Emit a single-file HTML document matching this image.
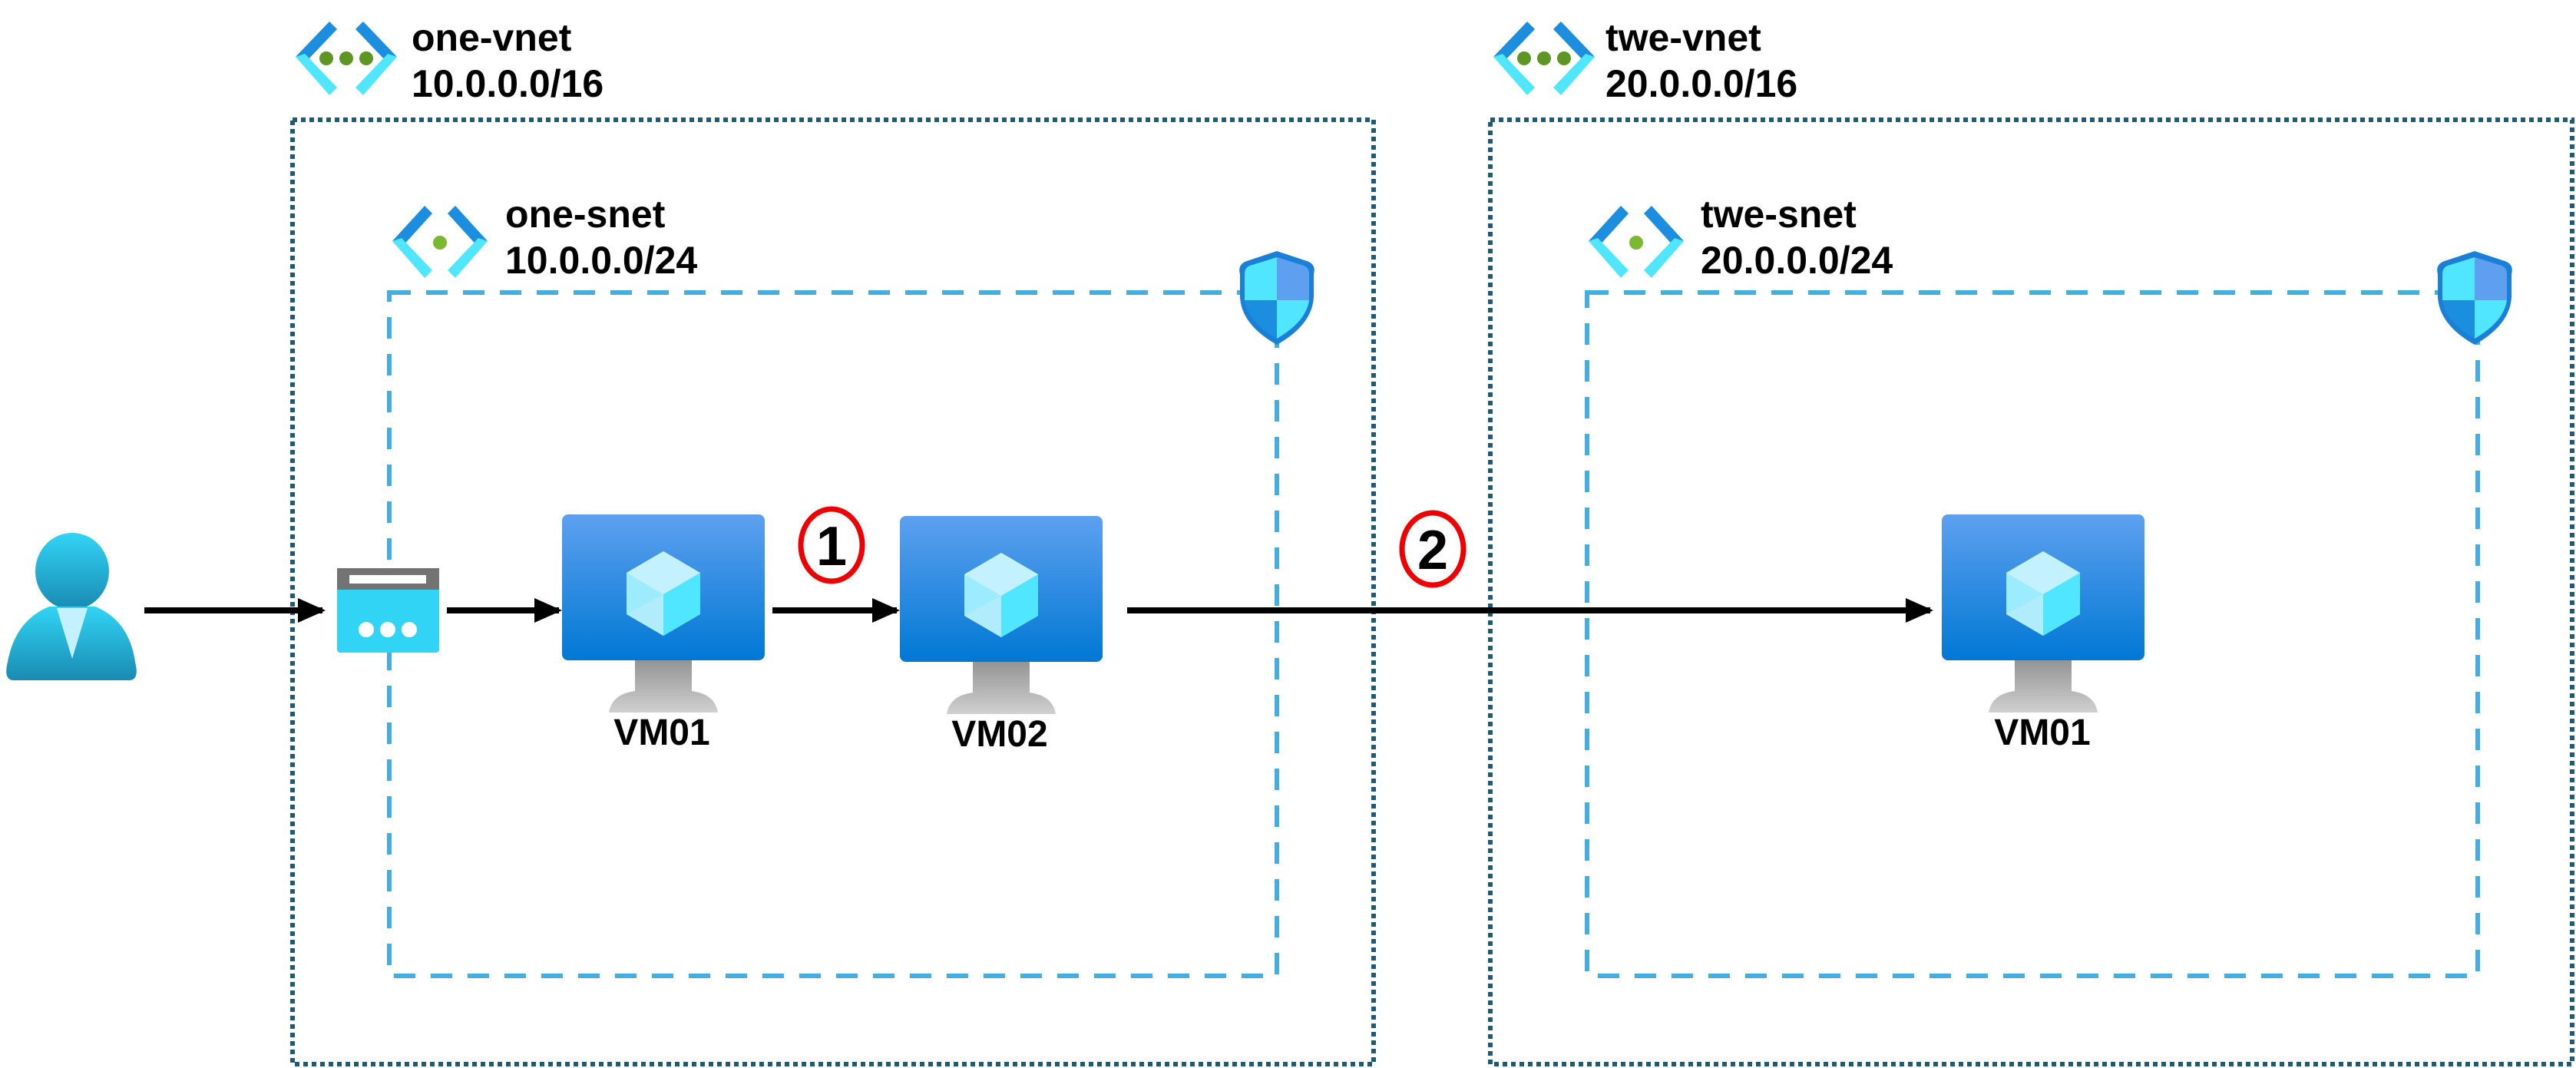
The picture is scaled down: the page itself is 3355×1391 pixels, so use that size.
<!DOCTYPE html>
<html><head><meta charset="utf-8"><style>
html,body{margin:0;padding:0;background:#fff;}
svg{display:block;}
text{font-family:"Liberation Sans",sans-serif;font-weight:bold;fill:#000;}
</style></head><body>
<svg width="3355" height="1391" viewBox="0 0 3355 1391" xmlns="http://www.w3.org/2000/svg">
<defs>
<linearGradient id="vm" x1="0" y1="0" x2="0" y2="1"><stop offset="0" stop-color="#5ea0ef"/><stop offset="1" stop-color="#0078d4"/></linearGradient>
<linearGradient id="st" x1="0" y1="0" x2="0" y2="1"><stop offset="0" stop-color="#949494"/><stop offset="1" stop-color="#d0d0d0"/></linearGradient>
<linearGradient id="pp" x1="0" y1="0" x2="0" y2="1"><stop offset="0" stop-color="#32d4f5"/><stop offset="1" stop-color="#198ab3"/></linearGradient>
<marker id="ah" markerWidth="4.5" markerHeight="4" refX="4" refY="2" orient="auto" markerUnits="strokeWidth"><path d="M0,0 L4.5,2 L0,4 z" fill="#000"/></marker>
<g id="vmicon">
<rect x="0" y="0" width="264" height="190" rx="8" fill="url(#vm)"/>
<path d="M95,190 h74 v40 q30,4 34,28 h-142 q4,-24 34,-28z" fill="url(#st)"/>
<polygon points="132,48 180,76 180,130 132,158 84,130 84,76" fill="#9cebff"/>
<polygon points="132,48 180,76 132,104 84,76" fill="#c3f1ff"/>
<polygon points="132,104 180,76 180,130 132,158" fill="#50e6ff"/>
<polygon points="132,104 132,158 84,130" fill="#b0ecfc"/>
</g>
<g id="shield">
<path d="M48,0 L84,12 Q100,16 96,30 L96,60 Q94,96 48,122 Q2,96 0,60 L0,30 Q-4,16 12,12 Z" fill="#1a7fd6"/>
<path d="M48,8 L48,64 L6,64 L6,30 Q6,20 16,18 Z" fill="#50e6ff"/>
<path d="M48,8 L80,18 Q90,20 90,30 L90,64 L48,64 Z" fill="#5ea0ef"/>
<path d="M48,64 L90,64 Q86,92 48,114 Z" fill="#50e6ff"/>
<path d="M48,64 L6,64 Q10,92 48,114 Z" fill="#1b8ee0"/>
</g>
</defs>

<rect x="381" y="156" width="1408" height="1230" fill="none" stroke="#1f5b77" stroke-width="6" stroke-dasharray="6 5"/>
<rect x="1941" y="156" width="1409" height="1230" fill="none" stroke="#1f5b77" stroke-width="6" stroke-dasharray="6 5"/>
<rect x="507" y="381" width="1156" height="890" fill="none" stroke="#45aee0" stroke-width="6" stroke-dasharray="28 20"/>
<rect x="2067" y="381" width="1160" height="890" fill="none" stroke="#45aee0" stroke-width="6" stroke-dasharray="28 20"/>

<g transform="translate(381,24)">
<path d="M48,4 L4,50 L16,58 L58,14Z" fill="#1b8ee0"/><path d="M4,50 L48,100 L58,90 L16,46Z" fill="#50e6ff"/>
<path d="M92,4 L136,50 L124,58 L82,14Z" fill="#1b8ee0"/><path d="M136,50 L92,100 L82,90 L124,46Z" fill="#50e6ff"/>
<circle cx="44" cy="52" r="9" fill="#5e9624"/><circle cx="70" cy="52" r="9" fill="#5e9624"/><circle cx="96" cy="52" r="9" fill="#5e9624"/>
</g>
<g transform="translate(1941,24)">
<path d="M48,4 L4,50 L16,58 L58,14Z" fill="#1b8ee0"/><path d="M4,50 L48,100 L58,90 L16,46Z" fill="#50e6ff"/>
<path d="M92,4 L136,50 L124,58 L82,14Z" fill="#1b8ee0"/><path d="M136,50 L92,100 L82,90 L124,46Z" fill="#50e6ff"/>
<circle cx="44" cy="52" r="9" fill="#5e9624"/><circle cx="70" cy="52" r="9" fill="#5e9624"/><circle cx="96" cy="52" r="9" fill="#5e9624"/>
</g>
<text x="536" y="66" font-size="50">one-vnet</text>
<text x="536" y="126" font-size="50">10.0.0.0/16</text>
<text x="2091" y="66" font-size="50">twe-vnet</text>
<text x="2091" y="126" font-size="50">20.0.0.0/16</text>

<g transform="translate(509,266)">
<path d="M44,2 L2,48 L14,56 L54,12Z" fill="#1b8ee0"/><path d="M2,48 L44,96 L54,86 L14,44Z" fill="#50e6ff"/>
<path d="M84,2 L126,48 L114,56 L74,12Z" fill="#1b8ee0"/><path d="M126,48 L84,96 L74,86 L114,44Z" fill="#50e6ff"/>
<circle cx="64" cy="50" r="9" fill="#7cb82f"/>
</g>
<g transform="translate(2067,266)">
<path d="M44,2 L2,48 L14,56 L54,12Z" fill="#1b8ee0"/><path d="M2,48 L44,96 L54,86 L14,44Z" fill="#50e6ff"/>
<path d="M84,2 L126,48 L114,56 L74,12Z" fill="#1b8ee0"/><path d="M126,48 L84,96 L74,86 L114,44Z" fill="#50e6ff"/>
<circle cx="64" cy="50" r="9" fill="#7cb82f"/>
</g>
<text x="658" y="296" font-size="50">one-snet</text>
<text x="658" y="356" font-size="50">10.0.0.0/24</text>
<text x="2215" y="296" font-size="50">twe-snet</text>
<text x="2215" y="356" font-size="50">20.0.0.0/24</text>

<use href="#shield" transform="translate(1615,327)"/>
<use href="#shield" transform="translate(3175,327)"/>

<g>
<ellipse cx="94" cy="744" rx="48" ry="50" fill="url(#pp)"/>
<path d="M18,886 Q4,886 10,862 Q20,808 64,790 L124,790 Q168,808 176,862 Q182,886 168,886Z" fill="url(#pp)"/>
<path d="M74,792 L94,858 L114,792 Z" fill="#c3f1ff"/>
</g>

<g transform="translate(439,740)">
<rect x="0" y="0" width="133" height="110" rx="4" fill="#32d4f5"/>
<rect x="0" y="0" width="133" height="28" fill="#737373"/>
<rect x="16" y="9" width="100" height="11" fill="#fff"/>
<circle cx="38" cy="80" r="10" fill="#fff"/><circle cx="66" cy="80" r="10" fill="#fff"/><circle cx="94" cy="80" r="10" fill="#fff"/>
</g>

<g stroke="#000" stroke-width="8" fill="none">
<line x1="188" y1="795" x2="420" y2="795" marker-end="url(#ah)"/>
<line x1="582" y1="795" x2="728" y2="795" marker-end="url(#ah)"/>
<line x1="1006" y1="795" x2="1168" y2="795" marker-end="url(#ah)"/>
<line x1="1468" y1="795" x2="2514" y2="795" marker-end="url(#ah)"/>
</g>

<use href="#vmicon" transform="translate(732,670)"/>
<use href="#vmicon" transform="translate(1172,672)"/>
<use href="#vmicon" transform="translate(2529,670)"/>
<text x="862" y="970" font-size="48" text-anchor="middle">VM01</text>
<text x="1302" y="972" font-size="48" text-anchor="middle">VM02</text>
<text x="2660" y="970" font-size="48" text-anchor="middle">VM01</text>

<ellipse cx="1083" cy="710" rx="40" ry="47" fill="#fff" stroke="#e00" stroke-width="7"/>
<text x="1083" y="736" font-size="72" text-anchor="middle">1</text>
<ellipse cx="1866" cy="715" rx="40" ry="47" fill="#fff" stroke="#e00" stroke-width="7"/>
<text x="1866" y="741" font-size="72" text-anchor="middle">2</text>
</svg>
</body></html>
